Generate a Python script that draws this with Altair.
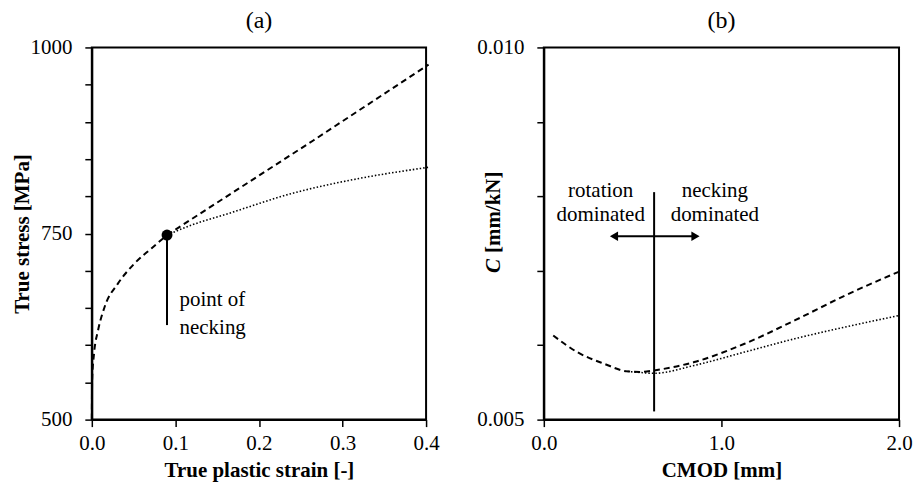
import altair as alt
import pandas as pd

FONT = "Liberation Serif"

# ---------- Panel (a): true stress vs true plastic strain ----------
strain_pre = [0.0, 0.0004, 0.0027, 0.0075, 0.0155, 0.0314, 0.0513, 0.0713, 0.09]
stress_pre = [500, 554, 589, 620, 652, 683, 710, 730, 748]
strain_lin = [0.09, 0.265, 0.403]
stress_lin = [748, 875, 977]
strain_soft = [0.09, 0.121, 0.161, 0.240, 0.320, 0.403]
stress_soft = [748, 762, 776, 804, 824, 839]
neck_strain = [0.09]
neck_stress = [748]
neck_line_strain = [0.09, 0.09]
neck_line_stress = [748, 627]
neck_text = ["point of", "necking"]
neck_text_x = [0.105, 0.105]
neck_text_y = [661, 623]
a_x_ticks = [0.0, 0.1, 0.2, 0.3, 0.4]
a_y_ticks = [500, 550, 600, 650, 700, 750, 800, 850, 900, 950, 1000]

# ---------- Panel (b): compliance vs CMOD ----------
cmod_dash = [0.053, 0.188, 0.339, 0.471, 0.55, 0.621, 0.847, 1.130, 1.412, 1.695, 2.0]
comp_dash = [0.006130, 0.005907, 0.005751, 0.005648, 0.005640, 0.005661, 0.005773, 0.006019, 0.006332, 0.006666, 0.006988]
cmod_dot = [0.471, 0.55, 0.621, 0.847, 1.130, 1.412, 1.695, 2.0]
comp_dot = [0.005648, 0.005632, 0.005622, 0.005728, 0.005907, 0.006086, 0.006243, 0.006398]
split_cmod = [0.621, 0.621]
split_comp = [0.00511, 0.008056]
arrow_cmod = [0.395, 0.854]
arrow_comp = [0.007463, 0.007463]
region_text = ["rotation", "dominated", "necking", "dominated"]
region_x = [0.32, 0.32, 0.963, 0.963]
region_y = [0.00807, 0.007748, 0.00807, 0.007748]
b_x_ticks = [0.0, 1.0, 2.0]
b_y_ticks = [0.005, 0.006, 0.007, 0.008, 0.009, 0.010]

# ---------- Panel (a) chart ----------
ax_a_x = alt.X("x:Q", scale=alt.Scale(domain=[0, 0.4], nice=False, zero=False),
               axis=alt.Axis(values=a_x_ticks, format=".1f", title="True plastic strain [-]",
                             titlePadding=6, labelPadding=6))
ax_a_y = alt.Y("y:Q", scale=alt.Scale(domain=[500, 1000], nice=False, zero=False),
               axis=alt.Axis(values=a_y_ticks, labelExpr="datum.value % 250 == 0 ? datum.value : ''",
                             title="True stress [MPa]", titleX=-69, titleY=186.5,
                             titleBaseline="middle", labelPadding=13))

df_pre = pd.DataFrame({"x": strain_pre, "y": stress_pre})
df_lin = pd.DataFrame({"x": strain_lin, "y": stress_lin})
df_soft = pd.DataFrame({"x": strain_soft, "y": stress_soft})
df_neck = pd.DataFrame({"x": neck_strain, "y": neck_stress})
df_neck_line = pd.DataFrame({"x": neck_line_strain, "y": neck_line_stress})
df_neck_text = pd.DataFrame({"x": neck_text_x, "y": neck_text_y, "t": neck_text})

a_pre = alt.Chart(df_pre).mark_line(color="black", strokeWidth=2, strokeDash=[6, 4],
                                    interpolate="monotone").encode(x=ax_a_x, y=ax_a_y)
a_lin = alt.Chart(df_lin).mark_line(color="black", strokeWidth=2, strokeDash=[6, 4]).encode(x=ax_a_x, y=ax_a_y)
a_soft = alt.Chart(df_soft).mark_line(color="black", strokeWidth=1.6, strokeDash=[1.5, 2],
                                      interpolate="monotone").encode(x=ax_a_x, y=ax_a_y)
a_line = alt.Chart(df_neck_line).mark_line(color="black", strokeWidth=2).encode(x=ax_a_x, y=ax_a_y)
a_pt = alt.Chart(df_neck).mark_point(filled=True, color="black", size=120, opacity=1).encode(x=ax_a_x, y=ax_a_y)
a_txt = alt.Chart(df_neck_text).mark_text(font=FONT, fontSize=21, align="left", baseline="middle",
                                          color="black").encode(x=ax_a_x, y=ax_a_y, text="t:N")

chart_a = alt.layer(a_pre, a_lin, a_soft, a_line, a_pt, a_txt).properties(
    width=335, height=373,
    title=alt.TitleParams("(a)", font=FONT, fontSize=24, fontWeight="normal", offset=3, color="black"))

# ---------- Panel (b) chart ----------
ax_b_x = alt.X("x:Q", scale=alt.Scale(domain=[0, 2.0], nice=False, zero=False),
               axis=alt.Axis(values=b_x_ticks, format=".1f", title="CMOD [mm]",
                             titlePadding=6, labelPadding=6))
ax_b_y = alt.Y("y:Q", scale=alt.Scale(domain=[0.005, 0.010], nice=False, zero=False),
               axis=alt.Axis(values=b_y_ticks,
                             labelExpr="(abs(datum.value-0.005)<1e-9 || abs(datum.value-0.01)<1e-9) ? format(datum.value, '.3f') : ''",
                             title=None, labelPadding=13))

df_dash = pd.DataFrame({"x": cmod_dash, "y": comp_dash})
df_dot = pd.DataFrame({"x": cmod_dot, "y": comp_dot})
df_split = pd.DataFrame({"x": split_cmod, "y": split_comp})
df_arrow = pd.DataFrame({"x": arrow_cmod, "y": arrow_comp})
df_arrow_l = pd.DataFrame({"x": arrow_cmod[:1], "y": arrow_comp[:1]})
df_arrow_r = pd.DataFrame({"x": arrow_cmod[1:], "y": arrow_comp[1:]})
df_region = pd.DataFrame({"x": region_x, "y": region_y, "t": region_text})

b_dash = alt.Chart(df_dash).mark_line(color="black", strokeWidth=2, strokeDash=[6, 4],
                                      interpolate="monotone").encode(x=ax_b_x, y=ax_b_y)
b_dot = alt.Chart(df_dot).mark_line(color="black", strokeWidth=1.6, strokeDash=[1.5, 2],
                                    interpolate="monotone").encode(x=ax_b_x, y=ax_b_y)
b_split = alt.Chart(df_split).mark_line(color="black", strokeWidth=2).encode(x=ax_b_x, y=ax_b_y)
b_arrow = alt.Chart(df_arrow).mark_line(color="black", strokeWidth=2).encode(x=ax_b_x, y=ax_b_y)
b_head_l = alt.Chart(df_arrow_l).mark_point(shape="triangle-left", filled=True, color="black",
                                            size=90, opacity=1).encode(x=ax_b_x, y=ax_b_y)
b_head_r = alt.Chart(df_arrow_r).mark_point(shape="triangle-right", filled=True, color="black",
                                            size=90, opacity=1).encode(x=ax_b_x, y=ax_b_y)
b_txt = alt.Chart(df_region).mark_text(font=FONT, fontSize=21, align="center", baseline="middle",
                                       color="black").encode(x=ax_b_x, y=ax_b_y, text="t:N")
b_title_c = alt.Chart(pd.DataFrame({"t": ["C"]})).mark_text(
    font=FONT, fontSize=21, fontWeight="bold", fontStyle="italic", angle=270, align="left",
    baseline="middle", color="black").encode(x=alt.value(-50), y=alt.value(226), text="t:N")
b_title_u = alt.Chart(pd.DataFrame({"t": ["[mm/kN]"]})).mark_text(
    font=FONT, fontSize=21, fontWeight="bold", angle=270, align="left",
    baseline="middle", color="black").encode(x=alt.value(-50), y=alt.value(206), text="t:N")

chart_b = alt.layer(b_dash, b_dot, b_split, b_arrow, b_head_l, b_head_r, b_txt,
                    b_title_c, b_title_u).properties(
    width=356, height=373,
    title=alt.TitleParams("(b)", font=FONT, fontSize=24, fontWeight="normal", offset=3, color="black"))

chart = alt.hconcat(chart_a, chart_b, spacing=34).properties(
    padding={"left": 3, "top": 0, "right": 0, "bottom": 0},
    background="white"
).configure_view(
    stroke="black", strokeWidth=2
).configure_axis(
    grid=False, domainColor="black", domainWidth=2, tickColor="black", tickWidth=1.5,
    tickSize=7, labelColor="black", labelFont=FONT, labelFontSize=21, labelFlush=False,
    titleColor="black", titleFont=FONT, titleFontSize=21, titleFontWeight="bold"
)

chart.save("out.html", embed_options={"renderer": "svg", "actions": False})
